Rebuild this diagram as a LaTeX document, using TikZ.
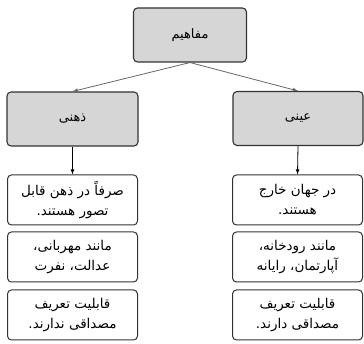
\documentclass[tikz,border=0pt]{standalone}
\usepackage{fontspec}
\newfontfamily\persianfont[Script=Arabic]{DejaVu Sans}
\TeXXeTstate=1
\usetikzlibrary{arrows}
\newcommand{\fa}[1]{{\persianfont\beginR #1\endR}}
\tikzset{
  headbox/.style={draw=black!80,line width=1.1pt,rounded corners=4pt,fill=black!16,
    minimum height=54pt,font=\fontsize{13}{15}\selectfont},
  notebox/.style={draw=black!80,line width=1pt,rounded corners=4pt,fill=white,
    minimum width=130pt,minimum height=50pt,inner sep=2pt,align=center,
    font=\fontsize{13.5}{20}\selectfont},
}
\begin{document}
\begin{tikzpicture}[x=1pt,y=-1pt]
  \useasboundingbox (0,0) rectangle (364,344);
  \node[headbox,minimum width=113pt] (mafahim) at (190,35) {\fa{مفاهیم}};
  \node[headbox,minimum width=131pt] (zehni) at (72.5,119) {\fa{ذهنی}};
  \node[headbox,minimum width=130pt] (eini) at (298,118.5) {\fa{عینی}};
  % left column
  \node[notebox] (zehniA) at (72.5,200) {\fa{صرفاً در ذهن قابل}\\\fa{تصور هستند.}};
  \node[notebox] (zehniB) at (72.5,257) {\fa{مانند مهربانی،}\\\fa{عدالت، نفرت}};
  \node[notebox] (zehniC) at (72.5,315) {\fa{قابلیت تعریف}\\\fa{مصداقی ندارند.}};
  % right column
  \node[notebox] (einiA) at (297.5,200) {\fa{در جهان خارج}\\\fa{هستند.}};
  \node[notebox] (einiB) at (297.5,257) {\fa{مانند رودخانه،}\\\fa{آپارتمان، رایانه}};
  \node[notebox] (einiC) at (297.5,315) {\fa{قابلیت تعریف}\\\fa{مصداقی دارند.}};
  \draw[-latex,color=black!60,line width=0.8pt] (mafahim.south) -- (zehni.north);
  \draw[-latex,color=black!60,line width=0.8pt] (mafahim.south) -- (eini.north);
  \draw[-latex,line width=0.8pt] (zehni.south) -- (zehniA.north);
  \draw[-latex,line width=0.8pt] (eini.south) -- (einiA.north);
\end{tikzpicture}
\end{document}
